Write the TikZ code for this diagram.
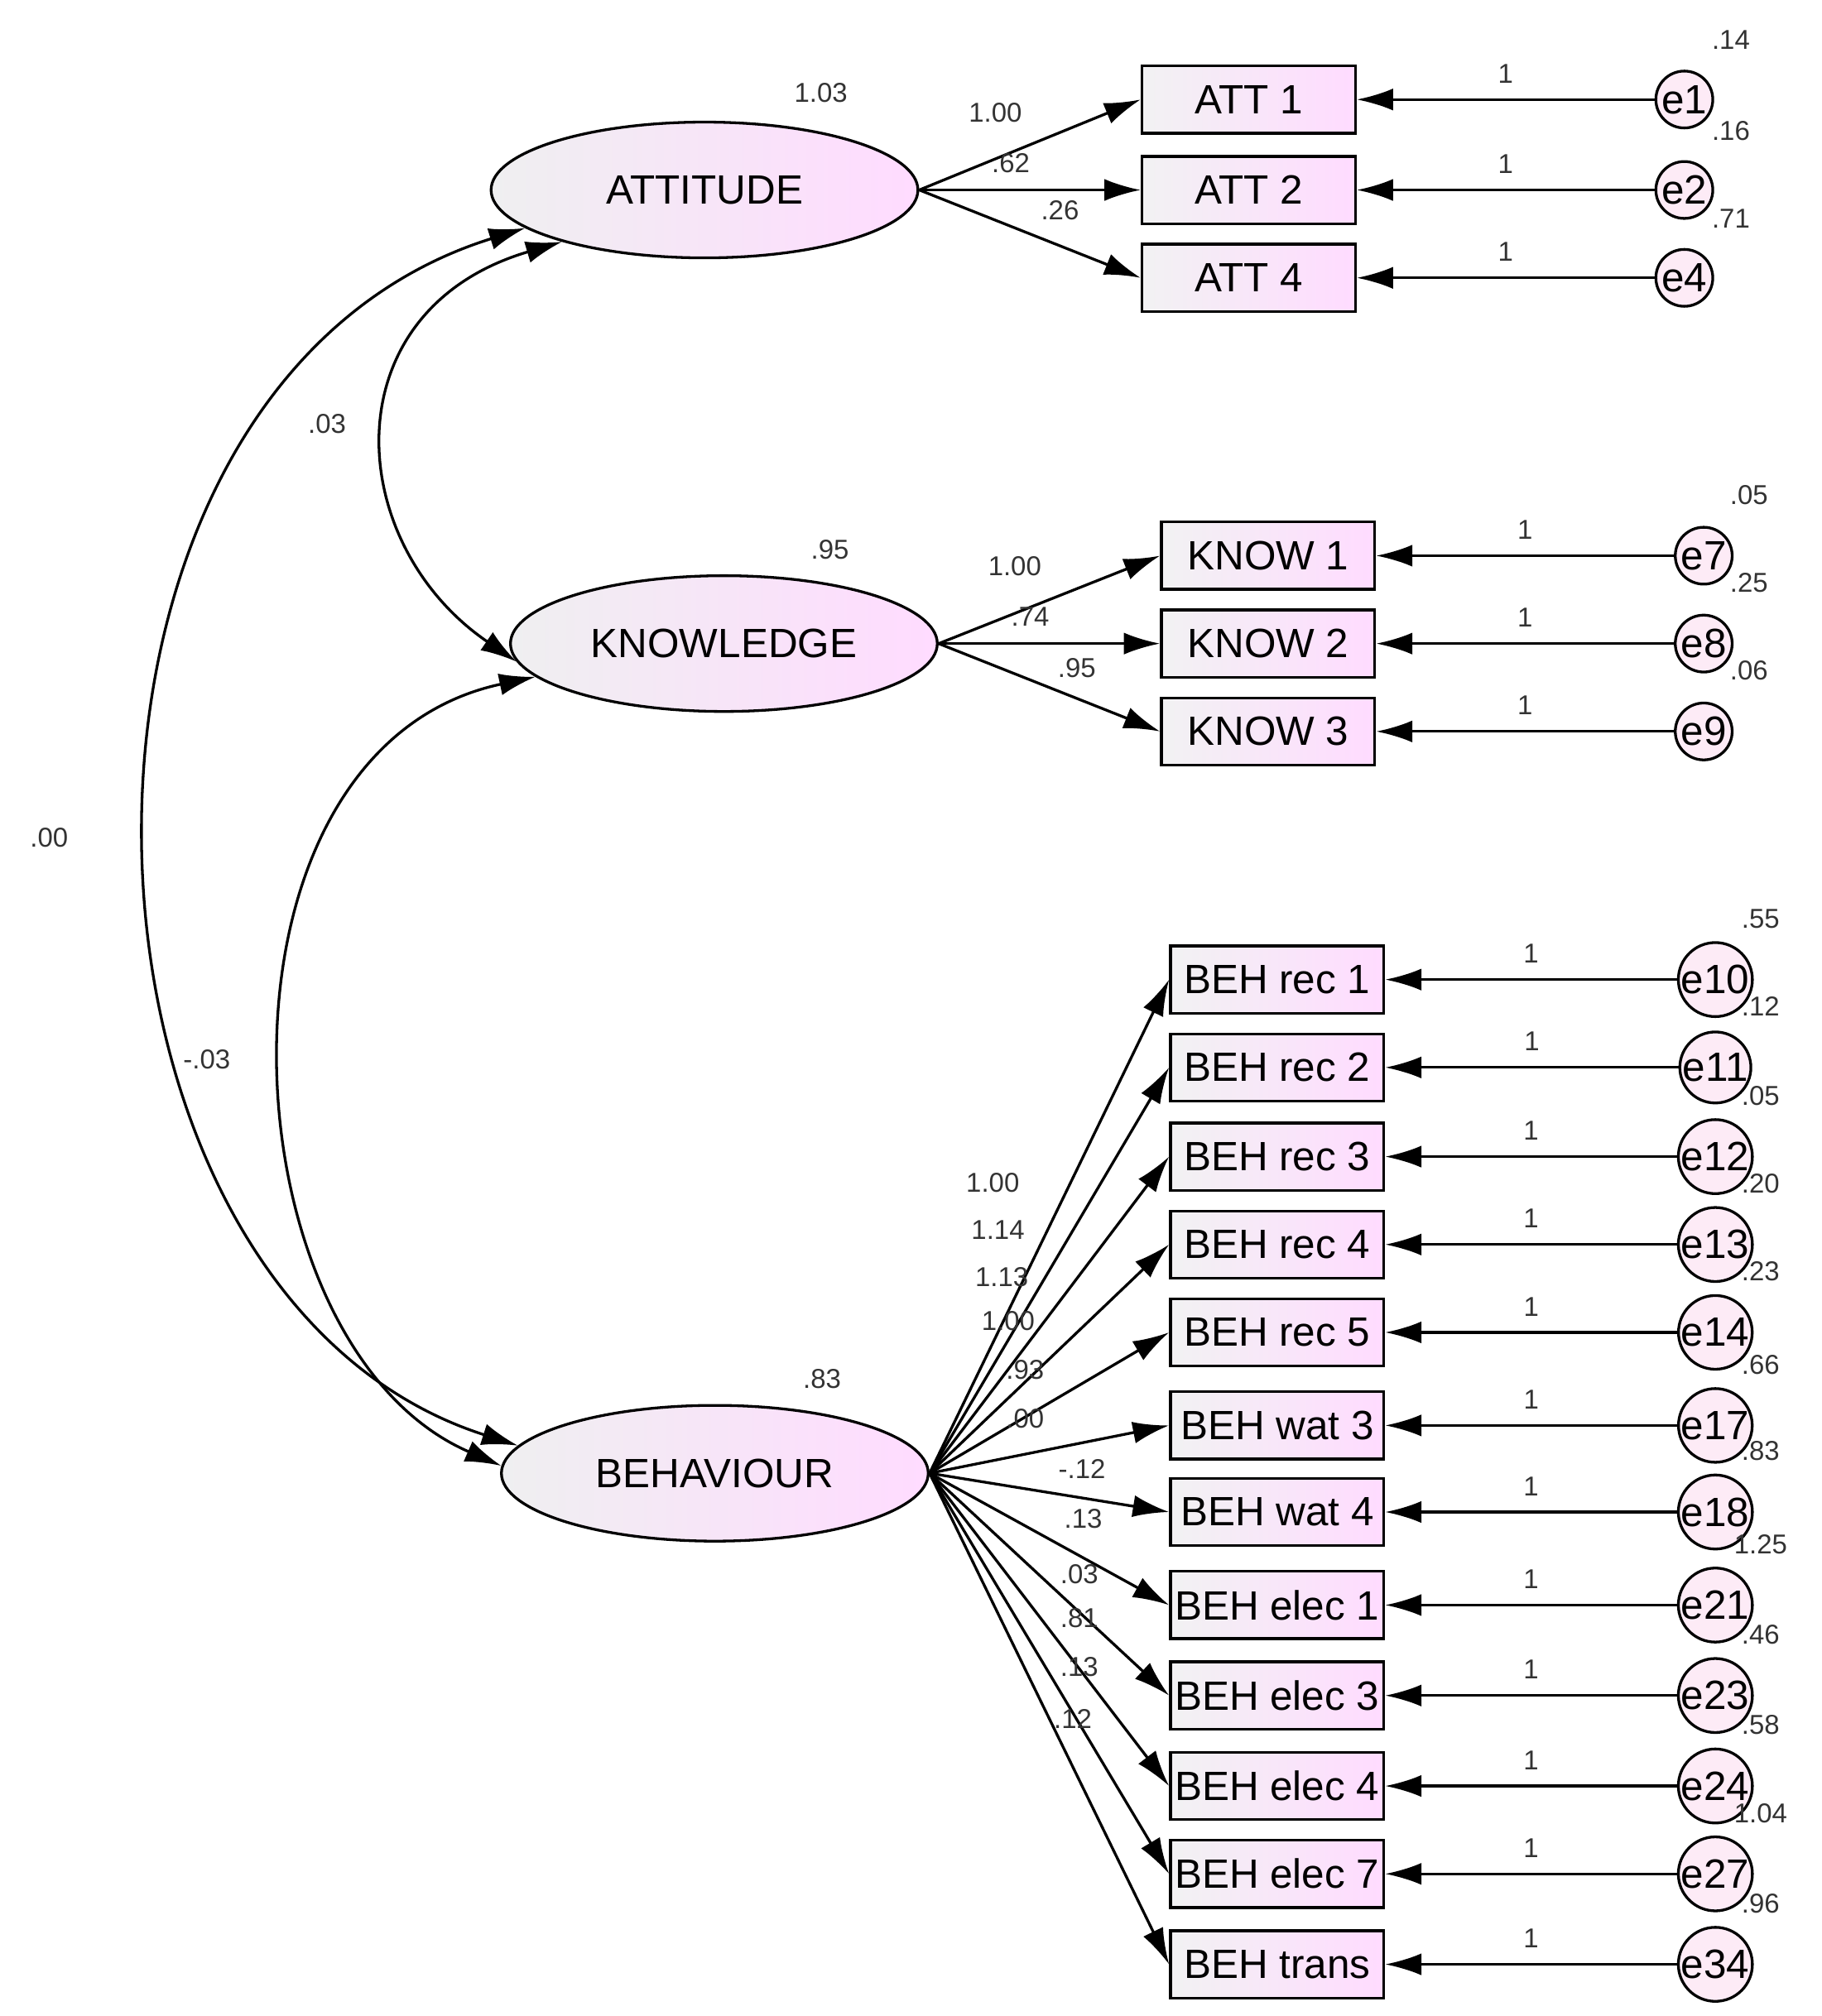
\documentclass[tikz,border=0pt]{standalone}
\usepackage{fontspec}
\setmainfont{Liberation Sans}
\usetikzlibrary{shapes.geometric,arrows.meta}
\begin{document}
\begin{tikzpicture}[x=0.01cm,y=-0.01cm,line width=0.6pt,
    latent/.style={ellipse,draw,left color=blue!4!gray!12,right color=magenta!14,
      minimum width=3.3cm,minimum height=1.05cm,font=\fontsize{9}{10}\selectfont},
    item/.style={rectangle,draw,left color=blue!4!gray!10,right color=magenta!14,
      minimum width=1.65cm,minimum height=0.52cm,inner sep=0pt,font=\fontsize{9}{10}\selectfont},
    err/.style={circle,draw,fill=magenta!8,minimum size=0.44cm,inner sep=0pt,font=\fontsize{9}{10}\selectfont},
    small/.style={font=\fontsize{6}{7}\selectfont,text=black!80},
    path/.style={-{Latex[length=0.28cm,width=0.17cm]}},
    cov/.style={{Latex[length=0.28cm,width=0.17cm]}-{Latex[length=0.28cm,width=0.17cm]}}]
  \useasboundingbox (0,0) rectangle (1409,1560);
  % latent factors
  \node[latent] (att) at (545,147) {ATTITUDE};
  \node[latent] (know) at (560,498) {KNOWLEDGE};
  \node[latent] (beh) at (553,1140) {BEHAVIOUR};
  \node[small] (vatt) at (635,72) {1.03};
  \node[small] (vknow) at (642,425) {.95};
  \node[small] (vbeh) at (636,1067) {.83};
  % attitude items
  \foreach \n/\t/\y/\l/\lx/\ly/\v in {1/ATT 1/77/1.00/770/87/.14,2/ATT 2/147/.62/782/126/.16,4/ATT 4/215/.26/820/163/.71}{
    \node[item] (a\n) at (966,\y) {\t};
    \node[err] (e\n) at (1303,\y) {e\n};
    \draw[path] (att.east) -- (a\n.west);
    \draw[path] (e\n) -- node[small,above]{1} (a\n);
    \node[small] (la\n) at (\lx,\ly) {\l};
    \node[small] (ve\n) at ([xshift=0.36cm,yshift=0.46cm]e\n.center) {\v};
  }
  % knowledge items
  \foreach \n/\e/\y/\l/\lx/\ly/\v in {1/7/430/1.00/785/438/.05,2/8/498/.74/797/477/.25,3/9/566/.95/833/517/.06}{
    \node[item] (k\n) at (981,\y) {KNOW \n};
    \node[err] (e\e) at (1318,\y) {e\e};
    \draw[path] (know.east) -- (k\n.west);
    \draw[path] (e\e) -- node[small,above]{1} (k\n);
    \node[small] (lk\n) at (\lx,\ly) {\l};
    \node[small] (ve\e) at ([xshift=0.35cm,yshift=0.47cm]e\e.center) {\v};
  }
  % behaviour items
  \foreach \n/\t/\e/\y/\l/\lx/\ly/\v in {1/BEH rec 1/10/758/1.00/768/915/.55,
      2/BEH rec 2/11/826/1.14/772/952/.12,3/BEH rec 3/12/895/1.13/775/988/.05,
      4/BEH rec 4/13/963/1.00/780/1022/.20,5/BEH rec 5/14/1031/.93/793/1060/.23,
      6/BEH wat 3/17/1103/.00/793/1098/.66,7/BEH wat 4/18/1170/-.12/837/1137/.83,
      8/BEH elec 1/21/1242/.13/838/1175/1.25,9/BEH elec 3/23/1312/.03/835/1218/.46,
      10/BEH elec 4/24/1382/.81/835/1252/.58,11/BEH elec 7/27/1450/.13/835/1290/1.04,
      12/BEH trans/34/1520/.12/830/1330/.96}{
    \node[item] (b\n) at (988,\y) {\t};
    \node[err] (e\e) at (1327,\y) {e\e};
    \draw[path] (beh.east) -- (b\n.west);
    \draw[path] (e\e) -- node[small,above]{1} (b\n);
    \node[small] (lb\n) at (\lx,\ly) {\l};
    \node[small] (ve\e) at ([xshift=0.35cm,yshift=0.47cm]e\e.center) {\v};
  }
  % covariances
  \draw[cov] (att.200) .. controls (255,240) and (265,420) .. (know.185);
  \node[small] (c1) at (253,328) {.03};
  \draw[cov] (know.190) .. controls (150,580) and (170,1040) .. (beh.178);
  \node[small] (c2) at (160,820) {-.03};
  \draw[cov] (att.192) .. controls (10,300) and (30,1000) .. (beh.172);
  \node[small] (c3) at (38,648) {.00};
\end{tikzpicture}
\end{document}
